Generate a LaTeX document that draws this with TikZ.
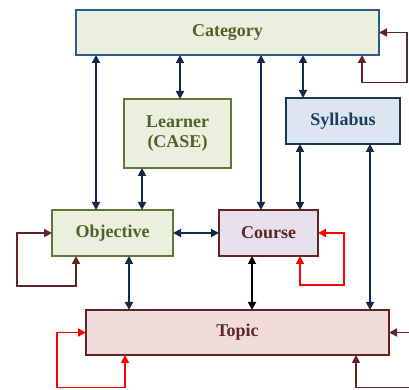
\documentclass[tikz,border=0pt]{standalone}
\usepackage{fontspec}
\setmainfont{Liberation Serif}
\usetikzlibrary{arrows.meta, positioning}

\definecolor{palegreen}{HTML}{EAF0DD}
\definecolor{oliveline}{HTML}{5E7733}
\definecolor{olivetext}{HTML}{4F6228}
\definecolor{catline}{HTML}{2F5A8C}
\definecolor{paleblue}{HTML}{DCE6F1}
\definecolor{navyline}{HTML}{1B3556}
\definecolor{navytext}{HTML}{1F3A5F}
\definecolor{palelilac}{HTML}{E5E0EC}
\definecolor{palerose}{HTML}{F2DCDB}
\definecolor{maroon}{HTML}{632523}
\definecolor{linknavy}{HTML}{13294B}

\begin{document}
\begin{tikzpicture}[
    >={Triangle[length=8pt,width=8pt]},
    font=\bfseries\fontsize{18}{20}\selectfont,
    box/.style={draw, rectangle, line width=1.5pt, inner sep=0pt, outer sep=0pt, align=center},
    catbox/.style={box, draw=catline, fill=palegreen, text=olivetext, minimum width=303pt, minimum height=45pt},
    greenbox/.style={box, draw=oliveline, fill=palegreen, text=olivetext},
    bluebox/.style={box, draw=navyline, fill=paleblue, text=navytext},
    redbox/.style={box, draw=maroon, text=maroon},
    link/.style={<->, line width=1.8pt, draw=linknavy},
    selfloop/.style={<->, line width=1.8pt}
]
\useasboundingbox (0,0) rectangle (409pt,390pt);
\clip (0,0) rectangle (409pt,390pt);

% Top node
\node[catbox] (cat) at (227.5pt,357.5pt) {Category};

% Second row
\node[greenbox, minimum width=107pt, minimum height=69pt, below right=44pt and 48pt of cat.south west] (learner) {Learner\\(CASE)};
\node[bluebox, minimum width=114pt, minimum height=46pt, below right=43pt and 210pt of cat.south west] (syl) {Syllabus};

% Third row
\node[greenbox, minimum width=121pt, minimum height=46pt, below right=155pt and -24pt of cat.south west] (obj) {Objective};
\node[redbox, fill=palelilac, minimum width=99pt, minimum height=46pt, right=46pt of obj] (course) {Course};

% Bottom node
\node[redbox, fill=palerose, minimum width=303pt, minimum height=45pt, below right=54pt and 34pt of obj.south west] (topic) {Topic};

% Links to the category
\draw[link] ([xshift=44pt]obj.north west) -- ([xshift=44pt]obj.north west |- cat.south);
\draw[link] ([xshift=2.5pt]learner.north) -- ([xshift=2.5pt]learner.north |- cat.south);
\draw[link] ([xshift=-7.5pt]course.north) -- ([xshift=-7.5pt]course.north |- cat.south);
\draw[link] ([xshift=17pt]syl.north west) -- ([xshift=17pt]syl.north west |- cat.south);

% Links between the middle nodes
\draw[link] ([xshift=18pt]learner.south west) -- ([xshift=18pt]learner.south west |- obj.north);
\draw[link] ([xshift=-18pt]course.north east) -- ([xshift=-18pt]course.north east |- syl.south);
\draw[link] (obj) -- (course);

% Links to the topic
\draw[link] ([xshift=16.5pt]obj.south) -- ([xshift=16.5pt]obj.south |- topic.north);
\draw[link, draw=black] ([xshift=-16.5pt]course.south) -- ([xshift=-16.5pt]course.south |- topic.north);
\draw[link] ([xshift=-30pt]syl.south east) -- ([xshift=-30pt]syl.south east |- topic.north);

% Self loops
\draw[selfloop, draw=maroon] (cat.east) -- ++(28pt,0) -- ++(0,-50pt) -| ([xshift=-17pt]cat.south east);
\draw[selfloop, draw=maroon] (obj.west) -- ++(-35pt,0) -- ++(0,-53pt) -| ([xshift=24pt]obj.south west);
\draw[selfloop, draw=red] (course.east) -- ++(26pt,0) -- ++(0,-52pt) -| ([xshift=-18pt]course.south east);
\draw[selfloop, draw=red] (topic.west) -- ++(-29pt,0) -- ++(0,-55pt) -| ([xshift=39pt]topic.south west);
\draw[selfloop, draw=maroon] (topic.east) -- ++(24pt,0) -- ++(0,-55pt) -| ([xshift=-33pt]topic.south east);

\end{tikzpicture}
\end{document}
